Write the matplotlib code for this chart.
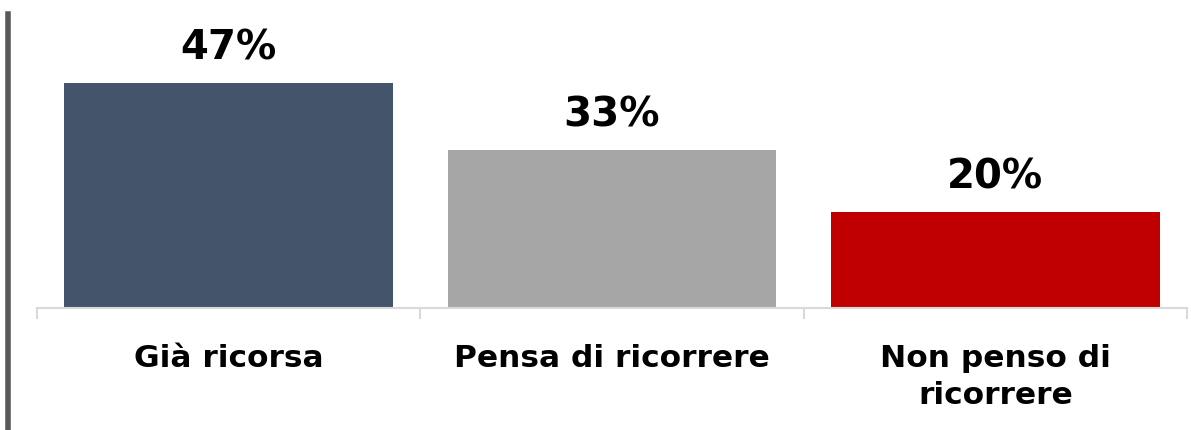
import matplotlib
matplotlib.use("Agg")
import matplotlib.pyplot as plt
from matplotlib.lines import Line2D

CATEGORIES = ["Già ricorsa", "Pensa di ricorrere", "Non penso di\nricorrere"]
VALUES = [47, 33, 20]
BAR_COLOURS = ["#44546A", "#A6A6A6", "#C00000"]

fig = plt.figure(figsize=(11.91, 4.31), dpi=100)
ax = fig.add_axes([37 / 1191, 1 - 309 / 431, 1150 / 1191, 309 / 431])

xs = list(range(len(CATEGORIES)))
ax.bar(xs, VALUES, width=0.858, color=BAR_COLOURS)

for x, v in zip(xs, VALUES):
    ax.annotate("{}%".format(v), (x, v), xytext=(0, 11), textcoords="offset points",
                ha="center", va="bottom", fontsize=29, fontweight="bold", color="black")

ax.set_xlim(-0.5, 2.5)
ax.set_ylim(0, 64.5)
ax.set_yticks([])
for side in ["top", "right", "left"]:
    ax.spines[side].set_visible(False)
ax.spines["bottom"].set_color("#D9D9D9")
ax.spines["bottom"].set_linewidth(1.5)

ax.set_xticks(xs)
ax.set_xticklabels(CATEGORIES, fontsize=22.5, fontweight="bold", linespacing=1.38, va="top")
ax.set_xticks([-0.5, 0.5, 1.5, 2.5], minor=True)
ax.tick_params(axis="x", which="major", length=0, pad=25)
ax.tick_params(axis="x", which="minor", length=8, width=1.5, color="#D9D9D9")

# grey vertical rule on the left edge
fig.add_artist(Line2D([7.5 / 1191, 7.5 / 1191], [0, 1 - 15 / 431], transform=fig.transFigure,
                      color="#595959", linewidth=4))

plt.savefig("out.png", dpi=100)
